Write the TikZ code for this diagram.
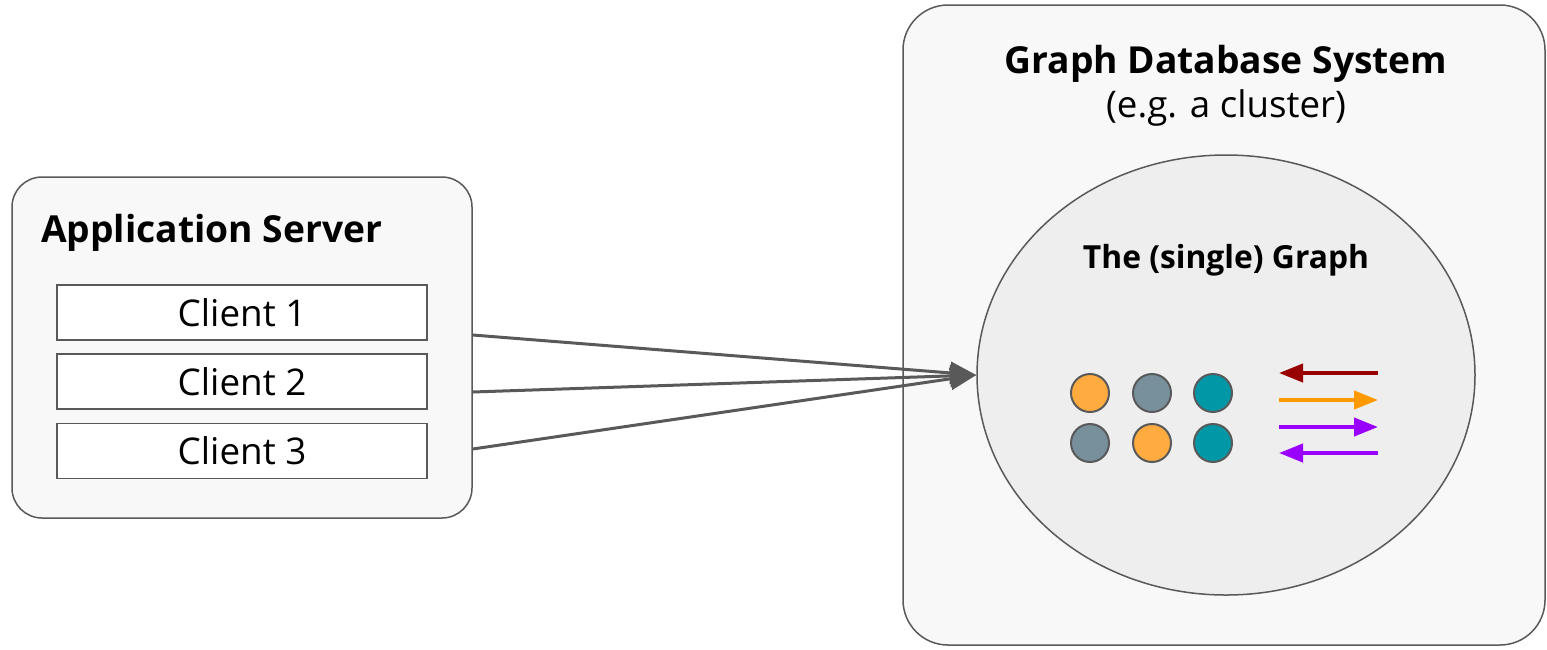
\documentclass[tikz,border=0pt]{standalone}
\usepackage{fontspec}
\setmainfont{Open Sans}
\usetikzlibrary{arrows.meta,shapes.geometric,calc}
\definecolor{strk}{HTML}{595959}
\definecolor{boxfill}{HTML}{F8F8F8}
\definecolor{ellfill}{HTML}{EEEEEE}
\definecolor{corange}{HTML}{FFAB40}
\definecolor{cgray}{HTML}{78909C}
\definecolor{cteal}{HTML}{0097A7}
\definecolor{adred}{HTML}{990000}
\definecolor{aorange}{HTML}{FF9900}
\definecolor{apurple}{HTML}{9900FF}
\tikzset{
  container/.style={draw=strk, fill=boxfill, line width=1.5pt, rounded corners=30pt, inner sep=0pt},
  clientbox/.style={draw=strk, fill=white, line width=1.5pt, minimum width=370pt, minimum height=55pt, inner sep=0pt, font=\fontsize{36.8}{44}\selectfont},
  dot/.style={circle, draw=strk, line width=2pt, minimum size=38pt, inner sep=0pt},
  conn/.style={draw=strk, line width=3pt, -{Triangle[length=26pt,width=22pt]}},
  marr/.style={line width=4pt, -{Triangle[length=24pt,width=18pt]}},
}
\begin{document}
\begin{tikzpicture}[x=1pt,y=-1pt]
\useasboundingbox (0,0) rectangle (1547,649);
% containers
\node[container, minimum width=460pt, minimum height=341pt] (app) at (242,347.5) {};
\node[container, rounded corners=45pt, minimum width=642pt, minimum height=640pt] (db) at (1224,325) {};
% titles
\node[anchor=base west, inner sep=0pt, font=\fontsize{37.2}{44}\selectfont\bfseries] (apptitle) at (41,242) {Application Server};
\node[anchor=base, inner sep=0pt, font=\fontsize{37.2}{44}\selectfont\bfseries] (dbtitle) at (1226,73) {Graph Database System};
\node[anchor=base, inner sep=0pt, font=\fontsize{36.7}{44}\selectfont] (dbsub) at (1226,117) {(e.g. a cluster)};
% clients
\node[clientbox] (c1) at (242,312.5) {Client 1};
\node[clientbox] (c2) at (242,381.5) {Client 2};
\node[clientbox] (c3) at (242,451) {Client 3};
% graph ellipse
\node[ellipse, draw=strk, fill=ellfill, line width=1.5pt, minimum width=498pt, minimum height=440pt, inner sep=0pt] (g) at (1226,375) {};
\node[anchor=base, inner sep=0pt, font=\fontsize{31.8}{38}\selectfont\bfseries] (gtitle) at (1226,268) {The (single) Graph};
% dots
\node[dot, fill=corange] (d1) at (1090,393) {};
\node[dot, fill=cgray] (d2) at (1152,393) {};
\node[dot, fill=cteal] (d3) at (1213,393) {};
\node[dot, fill=cgray] (d4) at (1090,443) {};
\node[dot, fill=corange] (d5) at (1152,443) {};
\node[dot, fill=cteal] (d6) at (1213,443) {};
% legend arrows
\coordinate (a1l) at (1279,373); \coordinate (a1r) at (1378,373);
\coordinate (a2l) at (1279,400); \coordinate (a2r) at (1378,400);
\coordinate (a3l) at (1279,427); \coordinate (a3r) at (1378,427);
\coordinate (a4l) at (1279,453); \coordinate (a4r) at (1378,453);
\draw[marr, adred] (a1r) -- (a1l);
\draw[marr, aorange] (a2l) -- (a2r);
\draw[marr, apurple] (a3l) -- (a3r);
\draw[marr, apurple] (a4r) -- (a4l);
% connectors
\coordinate (s1) at ($(app.east)+(0,-12.5)$);
\coordinate (s2) at ($(app.east)+(0,44.5)$);
\coordinate (s3) at ($(app.east)+(0,101.5)$);
\draw[conn] (s1) -- (g.west);
\draw[conn] (s2) -- (g.west);
\draw[conn] (s3) -- (g.west);
\end{tikzpicture}
\end{document}
